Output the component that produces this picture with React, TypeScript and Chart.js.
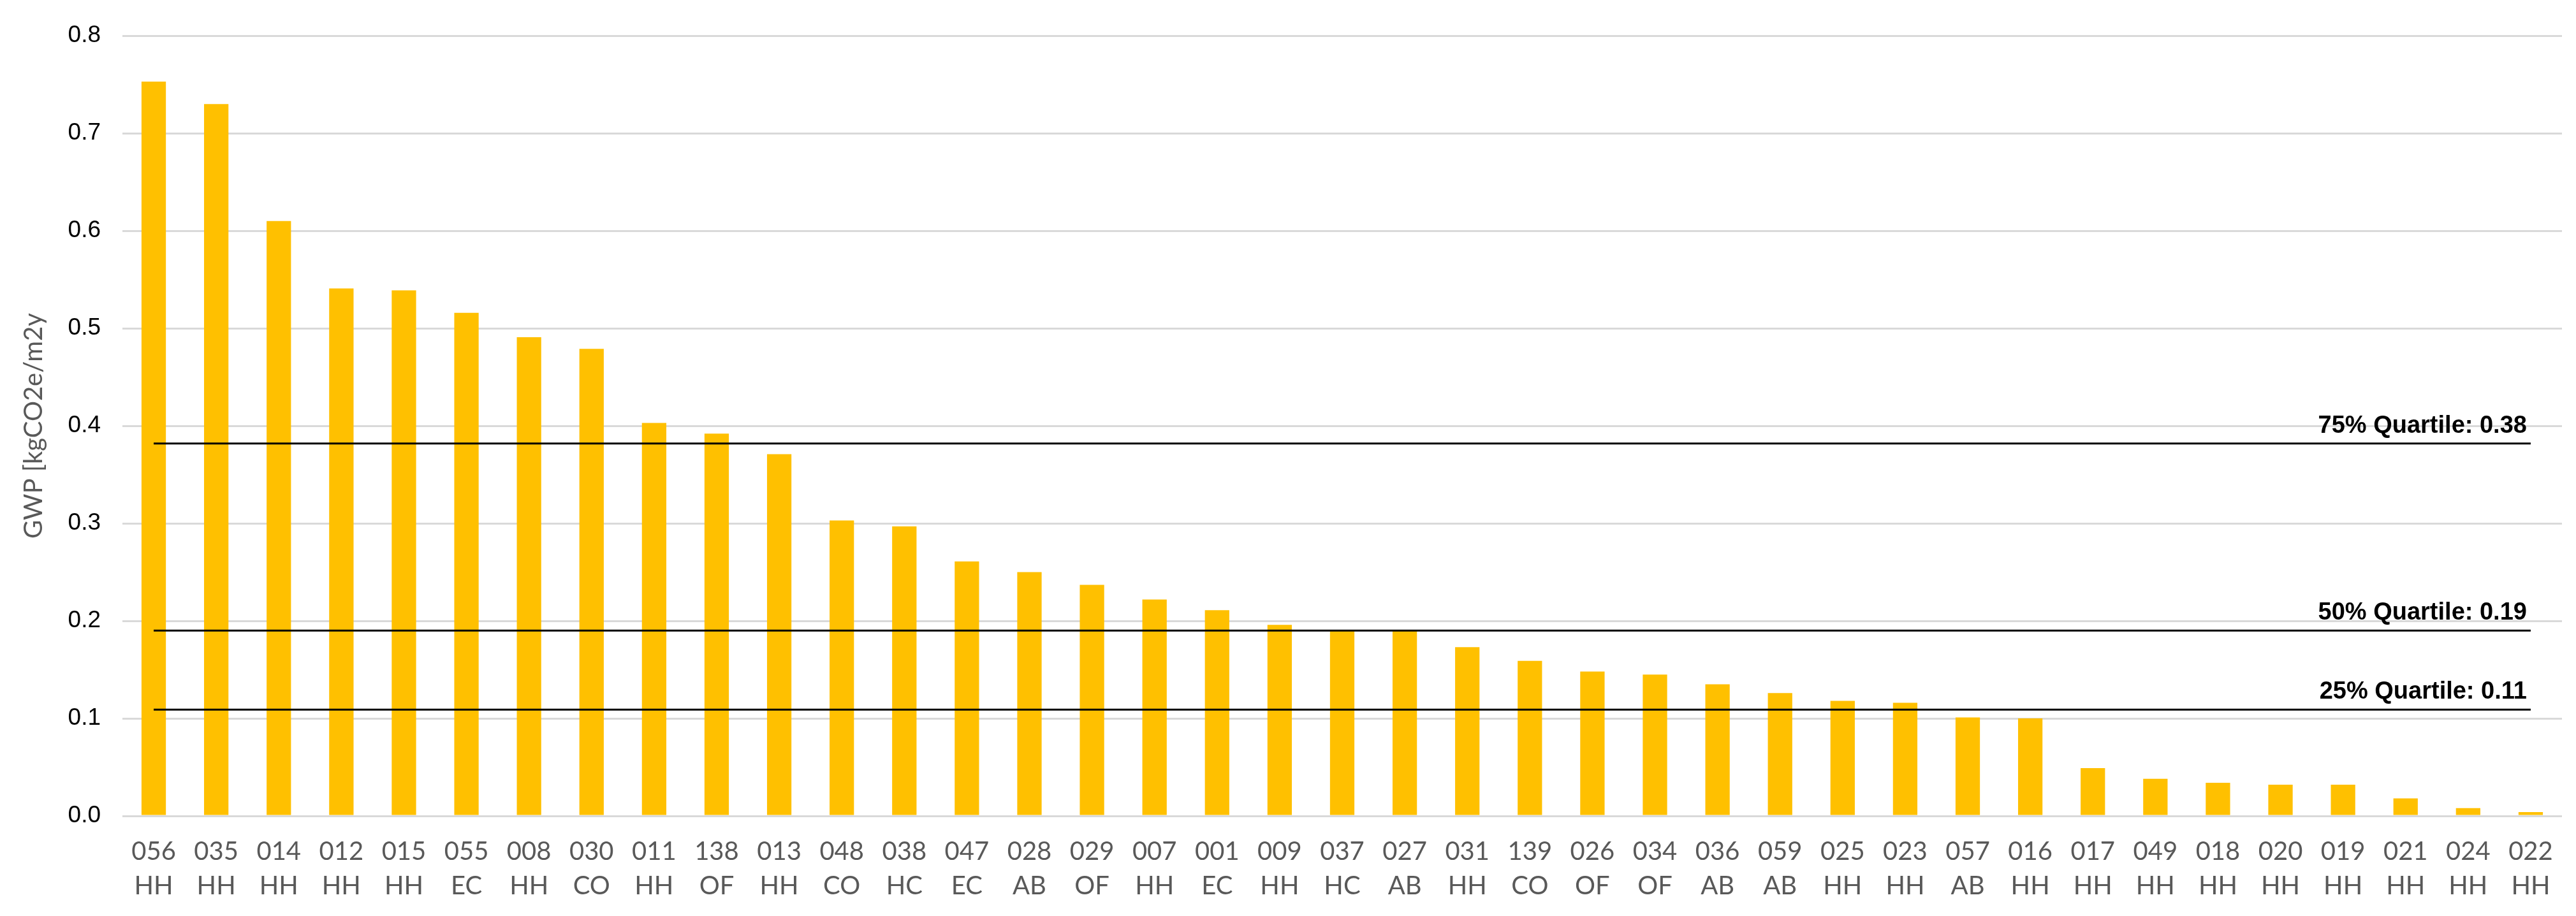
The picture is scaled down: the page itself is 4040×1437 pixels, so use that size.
import React, { useEffect, useRef } from "react";
import { Chart, registerables } from "chart.js";

Chart.register(...registerables);

const CATEGORY_IDS = [
  "056", "035", "014", "012", "015", "055", "008", "030", "011", "138",
  "013", "048", "038", "047", "028", "029", "007", "001", "009", "037",
  "027", "031", "139", "026", "034", "036", "059", "025", "023", "057",
  "016", "017", "049", "018", "020", "019", "021", "024", "022",
];

const CATEGORY_TYPES = [
  "HH", "HH", "HH", "HH", "HH", "EC", "HH", "CO", "HH", "OF",
  "HH", "CO", "HC", "EC", "AB", "OF", "HH", "EC", "HH", "HC",
  "AB", "HH", "CO", "OF", "OF", "AB", "AB", "HH", "HH", "AB",
  "HH", "HH", "HH", "HH", "HH", "HH", "HH", "HH", "HH",
];

const GWP_VALUES = [
  0.753, 0.730, 0.610, 0.541, 0.539, 0.516, 0.491, 0.479, 0.403, 0.392,
  0.371, 0.303, 0.297, 0.261, 0.250, 0.237, 0.222, 0.211, 0.196, 0.190,
  0.190, 0.173, 0.159, 0.148, 0.145, 0.135, 0.126, 0.118, 0.116, 0.101,
  0.100, 0.049, 0.038, 0.034, 0.032, 0.032, 0.018, 0.008, 0.004,
];

const QUARTILE_VALUES = [0.382, 0.19, 0.109];
const QUARTILE_LABELS = ["75% Quartile: 0.38", "50% Quartile: 0.19", "25% Quartile: 0.11"];

const Y_AXIS_TITLE = "GWP [kgCO2e/m2y";
const Y_MIN = 0;
const Y_MAX = 0.8;
const Y_STEP = 0.1;

const quartilePlugin = {
  id: "quartileLines",
  afterDatasetsDraw(chart: any) {
    const { ctx, scales } = chart;
    const x = scales.x;
    const y = scales.y;
    const x0 = x.getPixelForValue(0);
    const x1 = x.getPixelForValue(CATEGORY_IDS.length - 1);
    ctx.save();
    QUARTILE_VALUES.forEach((q, i) => {
      const py = y.getPixelForValue(q);
      ctx.strokeStyle = "#000000";
      ctx.lineWidth = 3;
      ctx.beginPath();
      ctx.moveTo(x0, py);
      ctx.lineTo(x1, py);
      ctx.stroke();
      ctx.font = "bold 38px 'Liberation Sans', Arial, sans-serif";
      ctx.fillStyle = "#000000";
      ctx.textAlign = "right";
      ctx.textBaseline = "alphabetic";
      ctx.fillText(QUARTILE_LABELS[i], x1 - 6, py - 17);
    });
    ctx.restore();
  },
};

export default function App() {
  const canvasRef = useRef<HTMLCanvasElement | null>(null);

  useEffect(() => {
    document.body.style.margin = "0";
    document.body.style.overflow = "hidden";
    const canvas = canvasRef.current;
    if (!canvas) return;
    const labels = CATEGORY_IDS.map((id, i) => [id, CATEGORY_TYPES[i]]);
    const chart = new Chart(canvas, {
      type: "bar",
      data: {
        labels,
        datasets: [
          {
            label: "GWP",
            data: GWP_VALUES,
            backgroundColor: "#FFC000",
            borderWidth: 0,
            barPercentage: 0.39,
            categoryPercentage: 1.0,
          },
        ],
      },
      options: {
        responsive: false,
        animation: false,
        devicePixelRatio: 1,
        layout: { padding: { top: 55, right: 22, bottom: 0, left: 0 } },
        plugins: {
          legend: { display: false },
          tooltip: { enabled: false },
        },
        scales: {
          x: {
            grid: { display: false, drawTicks: false },
            border: { display: false },
            ticks: {
              color: "#595959",
              font: { family: "Lato, 'Open Sans', sans-serif", size: 40, lineHeight: 1.35 },
              padding: 29,
              maxRotation: 0,
              minRotation: 0,
              autoSkip: false,
            },
            afterFit: (s: any) => {
              s.height = 157;
            },
          },
          y: {
            min: Y_MIN,
            max: Y_MAX,
            ticks: {
              stepSize: Y_STEP,
              callback: (v: any) => Number(v).toFixed(1),
              color: "#000000",
              font: { family: "'Liberation Sans', Arial, sans-serif", size: 37 },
              padding: 34,
            },
            grid: { color: "#d9d9d9", lineWidth: 3, drawTicks: false },
            border: { display: false },
            title: {
              display: true,
              text: Y_AXIS_TITLE,
              color: "#595959",
              font: { family: "Lato, 'Open Sans', sans-serif", size: 40, lineHeight: 1.2 },
              padding: { top: 29, bottom: 0 },
            },
            afterFit: (s: any) => {
              s.width = 192;
            },
          },
        },
      },
      plugins: [quartilePlugin],
    });
    return () => chart.destroy();
  }, []);

  return (
    <div style={{ width: 4040, height: 1437, background: "#ffffff" }}>
      <canvas ref={canvasRef} width={4040} height={1437} style={{ display: "block" }} />
    </div>
  );
}
